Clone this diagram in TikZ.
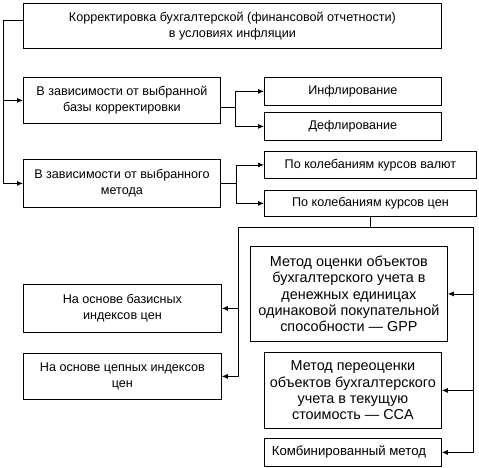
\documentclass[tikz,border=0pt]{standalone}
\usepackage{fontspec}
\setmainfont{Liberation Sans}
\usetikzlibrary{arrows.meta,positioning,calc}

\begin{document}
\begin{tikzpicture}[
    x=1pt, y=-1pt,
    font=\fontsize{12.6}{16.2}\selectfont,
    box/.style={draw, line width=0.8pt, align=center, anchor=north west, inner sep=1pt},
    bigbox/.style={box, font=\fontsize{14.4}{16.4}\selectfont},
    line/.style={line width=0.8pt},
    arrow/.style={line width=0.8pt, -{Latex[length=6pt,width=5pt]}}
]
    \useasboundingbox (0,0) rectangle (479,468);

    \node[box, minimum width=418pt, minimum height=45pt] (top) at (23,3)
        {Корректировка бухгалтерской (финансовой отчетности)\\в условиях инфляции};
    \node[box, minimum width=197pt, minimum height=46pt] (base) at (23,77)
        {В зависимости от выбранной\\базы корректировки};
    \node[box, minimum width=197pt, minimum height=48pt] (method) at (23,159)
        {В зависимости от выбранного\\метода};
    \node[box, minimum width=177pt, minimum height=28pt] (infl) at (264,77) {Инфлирование};
    \node[box, minimum width=177pt, minimum height=28pt] (defl) at (264,112) {Дефлирование};
    \node[box, minimum width=212pt, minimum height=27pt] (valute) at (264,151) {По колебаниям курсов валют};
    \node[box, minimum width=212pt, minimum height=26pt] (ceny) at (264,190) {По колебаниям курсов цен};
    \node[box, minimum width=198pt, minimum height=48pt] (basic) at (23,284)
        {На основе базисных\\индексов цен};
    \node[box, minimum width=198pt, minimum height=46pt] (chain) at (23,353)
        {На основе цепных индексов\\цен};
    \node[bigbox, minimum width=197pt, minimum height=95pt] (gpp) at (250,246)
        {Метод оценки объектов\\бухгалтерского учета в\\денежных единицах\\одинаковой покупательной\\способности — GPP};
    \node[bigbox, minimum width=177pt, minimum height=76pt] (cca) at (264,352)
        {Метод переоценки\\объектов бухгалтерского\\учета в текущую\\стоимость — CCA};
    \node[box, font=\fontsize{13.2}{16}\selectfont, minimum width=177pt, minimum height=28pt] (comb) at (264,438)
        {Комбинированный метод\hspace{8pt}};

    \coordinate (trunk) at (3,20);
    \coordinate (lbus) at (238,227);
    \coordinate (rbus) at (473,227);

    \draw[line] (top.west |- trunk) -- (trunk) -- (trunk |- method.west);
    \draw[arrow] (trunk |- base.west) -- (base.west);
    \draw[arrow] (trunk |- method.west) -- (method.west);

    \draw[line] ([yshift=-7pt]base.east) -- ++(15,0) coordinate (fork1);
    \draw[arrow] (fork1) |- (infl.west);
    \draw[arrow] (fork1) |- (defl.west);

    \draw[line] (method.east) -- ++(16,0) coordinate (fork2);
    \draw[arrow] (fork2) |- (valute.west);
    \draw[arrow] (fork2) |- (ceny.west);

    \draw[line] (ceny.south) -- (ceny.south |- lbus);
    \draw[line] (lbus) -- (rbus);
    \draw[arrow] (lbus) |- (basic.east);
    \draw[arrow] (lbus) |- (chain.east);
    \draw[arrow] (rbus) |- (gpp.east);
    \draw[arrow] (rbus) |- (cca.east);
    \draw[arrow] (rbus) |- (comb.east);
\end{tikzpicture}
\end{document}
